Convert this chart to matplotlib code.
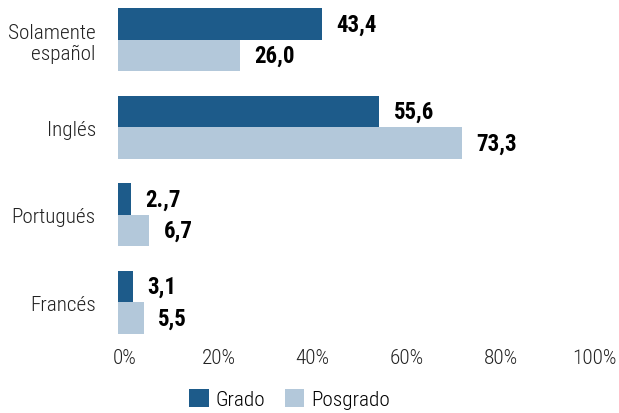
import matplotlib
matplotlib.use("Agg")
import matplotlib.pyplot as plt
import matplotlib.transforms as mtransforms
from matplotlib import font_manager
import numpy as np

# Data
categorias = ["Solamente\nespañol", "Inglés", "Portugués", "Francés"]
grado = [43.4, 55.6, 2.7, 3.1]
posgrado = [26.0, 73.3, 6.7, 5.5]
etiq_grado = ["43,4", "55,6", "2.,7", "3,1"]
etiq_posgrado = ["26,0", "73,3", "6,7", "5,5"]
ticks_x = [0, 20, 40, 60, 80, 100]

# pick a narrow font if there is one
nombres = {f.name for f in font_manager.fontManager.ttflist}
fuente = "DejaVu Sans"
for cand in ["Liberation Sans Narrow", "Roboto Condensed", "Liberation Sans"]:
    if cand in nombres:
        fuente = cand
        break
plt.rcParams["font.family"] = [fuente, "DejaVu Sans"]

color_grado = "#1d5b8a"
color_posgrado = "#b3c8da"

fig = plt.figure(figsize=(6.19, 4.14), dpi=100)
ax = fig.add_axes([0.1906, 0.1908, 0.949 - 0.1906, 0.978 - 0.1908])

y = np.arange(len(categorias))
h = 0.36
b1 = ax.barh(y - h / 2, grado, height=h, color=color_grado, label="Grado")
b2 = ax.barh(y + h / 2, posgrado, height=h, color=color_posgrado, label="Posgrado")

for barras, etiquetas in [(b1, etiq_grado), (b2, etiq_posgrado)]:
    for bar, txt in zip(barras, etiquetas):
        ax.annotate(txt, (bar.get_width(), bar.get_y() + bar.get_height() / 2),
                    xytext=(10.5, 0), textcoords="offset points",
                    ha="left", va="center", fontsize=16.5, fontweight="bold")

ax.set_xlim(0, 100)
ax.set_ylim(3 + h, -h)
ax.set_yticks(y)
ax.set_yticklabels(categorias, fontsize=15.3, ha="right", linespacing=1.15,
                   fontweight="light")
ax.set_xticks(ticks_x)
ax.set_xticklabels([f"{t}%" for t in ticks_x], fontsize=15.3, color="#222222",
                   fontweight="light")
ax.tick_params(axis="y", length=0, pad=16, colors="#222222")
ax.tick_params(axis="x", length=0, pad=10)
off = mtransforms.ScaledTranslation(0.07, 0, fig.dpi_scale_trans)
for lab in ax.get_xticklabels():
    lab.set_transform(lab.get_transform() + off)
for s in ax.spines.values():
    s.set_visible(False)

leg = fig.legend(handles=[b1, b2], loc="center", bbox_to_anchor=(0.468, 0.034),
                 ncol=2, frameon=False, fontsize=15.3, handlelength=0.9,
                 handleheight=0.95, handletextpad=0.35, columnspacing=0.9,
                 borderaxespad=0, borderpad=0)
for t in leg.get_texts():
    t.set_fontweight("light")

fig.savefig("out.png", dpi=100)
